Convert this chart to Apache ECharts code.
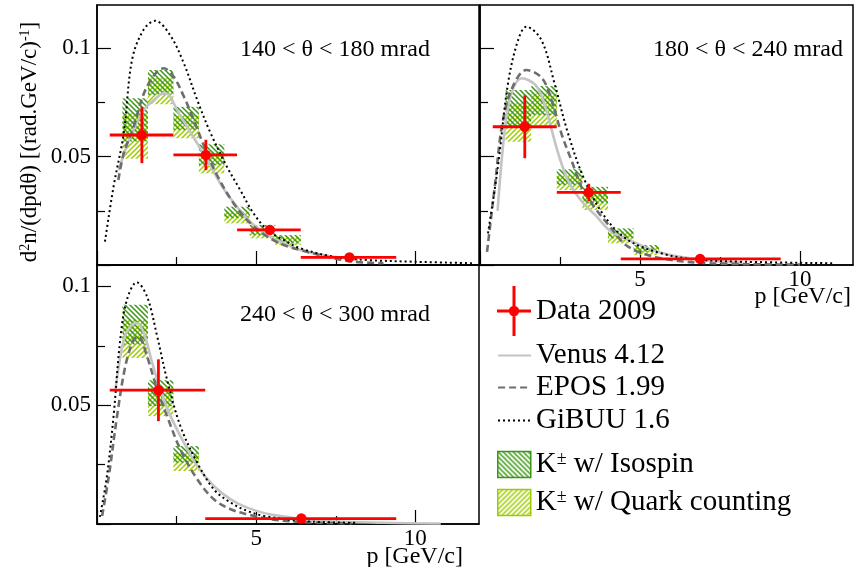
<!DOCTYPE html>
<html><head><meta charset="utf-8">
<script src="https://cdn.jsdelivr.net/npm/echarts@6/dist/echarts.min.js"></script>
<style>html,body{margin:0;padding:0;background:#fff}#c{width:856px;height:567px}</style>
</head><body><div id="c"></div>
<script>
const FONT = 'Liberation Serif';

// ---- axis ticks ----
const x_major = [0, 5, 10];
const x_minor = [2.5, 7.5];
const x_labels = [5, 10];
const y_major = [0, 0.05, 0.1];
const y_minor = [0.025, 0.075];
const y_labels = [0.05, 0.1];

// ---- panel 1 : 140 < theta < 180 mrad ----
const tl_data_p  = [1.41, 3.42, 5.43, 7.93];
const tl_data_y  = [0.060, 0.0508, 0.0162, 0.0035];
const tl_data_lo = [0.4, 2.4, 4.4, 6.4];
const tl_data_hi = [2.4, 4.4, 6.4, 9.4];
const tl_data_e  = [0.013, 0.007, 0.0008, 0.0005];
const tl_bin_lo = [0.8, 1.6, 2.4, 3.2, 4.0, 4.8, 5.6];
const tl_bin_hi = [1.6, 2.4, 3.2, 4.0, 4.8, 5.6, 6.4];
const tl_iso_lo = [0.057, 0.0785, 0.0623, 0.0461, 0.0216, 0.0138, 0.0100];
const tl_iso_hi = [0.077, 0.0900, 0.0730, 0.0557, 0.0269, 0.0185, 0.0138];
const tl_qc_lo  = [0.049, 0.0742, 0.0585, 0.0423, 0.0192, 0.0123, 0.0092];
const tl_qc_hi  = [0.070, 0.0862, 0.0692, 0.0523, 0.0246, 0.0169, 0.0130];
const tl_venus = [[0.68,0.0438],[1.05,0.0592],[1.47,0.0715],[1.78,0.0761],[2.1,0.0792],[2.26,0.0785],[2.52,0.0715],[2.83,0.0638],[3.15,0.0561],[3.46,0.0485],[3.78,0.0400],[4.08,0.0330],[4.5,0.0250],[4.92,0.0185],[5.35,0.0138],[5.87,0.0100],[6.39,0.0069],[6.92,0.0051],[7.44,0.0038],[8.2,0.0025]];
const tl_epos = [[0.67,0.0392],[0.84,0.0515],[1.15,0.0638],[1.57,0.0823],[2.1,0.0908],[2.41,0.0869],[2.73,0.0777],[3.04,0.0669],[3.36,0.0550],[3.77,0.0415],[4.29,0.0285],[4.82,0.0192],[5.35,0.0131],[5.87,0.0092],[6.39,0.0069],[7.44,0.0031],[8.07,0.0015],[9.0,0.0008]];
const tl_gibuu = [[0.25,0.0108],[0.52,0.0362],[0.84,0.0608],[1.1,0.0946],[1.46,0.1085],[1.83,0.1127],[2.3,0.1060],[2.73,0.0930],[3.15,0.0761],[3.57,0.0608],[4.08,0.0454],[4.5,0.0346],[4.92,0.0238],[5.35,0.0162],[5.87,0.0115],[6.39,0.0077],[7.44,0.0038],[8.5,0.0023],[9.96,0.0015],[11.85,0.0008]];

// ---- panel 2 : 180 < theta < 240 mrad ----
const tr_data_p  = [1.40, 3.40, 6.88];
const tr_data_y  = [0.0638, 0.0335, 0.0028];
const tr_data_lo = [0.4, 2.4, 4.4];
const tr_data_hi = [2.4, 4.4, 9.4];
const tr_data_e  = [0.0145, 0.004, 0.0005];
const tr_bin_lo = [0.8, 1.6, 2.4, 3.2, 4.0, 4.8];
const tr_bin_hi = [1.6, 2.4, 3.2, 4.0, 4.8, 5.6];
const tr_iso_lo = [0.0638, 0.0692, 0.0369, 0.0285, 0.0123, 0.0061];
const tr_iso_hi = [0.0808, 0.0826, 0.0442, 0.0361, 0.0169, 0.0092];
const tr_qc_lo  = [0.0569, 0.0646, 0.0346, 0.0254, 0.0100, 0.0046];
const tr_qc_hi  = [0.0746, 0.0792, 0.0415, 0.0338, 0.0154, 0.0082];
const tr_venus = [[0.55,0.0250],[0.79,0.0646],[1.0,0.0800],[1.31,0.0862],[1.73,0.0831],[1.99,0.0754],[2.2,0.0646],[2.46,0.0508],[2.77,0.0385],[3.19,0.0292],[3.6,0.0231],[4.1,0.0154],[4.9,0.0100],[5.52,0.0062],[6.25,0.0038],[7.2,0.0020],[8.2,0.0010]];
const tr_epos = [[0.22,0.0061],[0.48,0.0385],[0.69,0.0646],[1.0,0.0815],[1.45,0.0900],[1.94,0.0862],[2.25,0.0754],[2.56,0.0600],[2.875,0.0477],[3.19,0.0354],[3.6,0.0262],[4.02,0.0185],[4.63,0.0085],[5.67,0.0031],[7.23,0.0008],[10.0,0.0002]];
const tr_gibuu = [[0.25,0.0146],[0.56,0.0454],[0.875,0.0838],[1.19,0.1038],[1.45,0.1100],[1.92,0.1038],[2.33,0.0838],[2.75,0.0608],[3.27,0.0392],[3.9,0.0223],[4.63,0.0115],[5.67,0.0054],[6.7,0.0026],[8.27,0.0015],[11.1,0.0008]];

// ---- panel 3 : 240 < theta < 300 mrad ----
const bl_data_p  = [1.93, 6.42];
const bl_data_y  = [0.0563, 0.0023];
const bl_data_lo = [0.4, 3.4];
const bl_data_hi = [3.4, 9.4];
const bl_data_e  = [0.013, 0.0005];
const bl_bin_lo = [0.8, 1.6, 2.4];
const bl_bin_hi = [1.6, 2.4, 3.2];
const bl_iso_lo = [0.0755, 0.0496, 0.0258];
const bl_iso_hi = [0.0923, 0.0605, 0.0328];
const bl_qc_lo  = [0.0699, 0.0454, 0.0223];
const bl_qc_hi  = [0.0860, 0.0573, 0.0300];
const bl_venus = [[0.58,0.0566],[0.84,0.0776],[1.05,0.0832],[1.24,0.0846],[1.47,0.0804],[1.73,0.0680],[1.99,0.0566],[2.31,0.0454],[2.73,0.0342],[3.15,0.0244],[3.67,0.0160],[4.2,0.0104],[4.72,0.0069],[5.46,0.0040],[7.0,0.0015],[9.0,0.0005],[10.8,0.0002]];
const bl_epos = [[0.16,0.0034],[0.37,0.0200],[0.63,0.0454],[0.89,0.0664],[1.15,0.0776],[1.3,0.0790],[1.57,0.0706],[1.89,0.0566],[2.2,0.0454],[2.62,0.0314],[3.15,0.0188],[3.67,0.0104],[4.2,0.0062],[4.72,0.0041],[5.46,0.0020],[6.5,0.0008],[8.0,0.0003]];
const bl_gibuu = [[0.09,0.0030],[0.31,0.0200],[0.52,0.0454],[0.73,0.0776],[0.94,0.0944],[1.25,0.1017],[1.57,0.0958],[1.89,0.0790],[2.2,0.0608],[2.62,0.0412],[3.15,0.0258],[3.67,0.0146],[4.2,0.0090],[4.72,0.0055],[5.25,0.0034],[6.5,0.0012],[8.2,0.0005]];

// ---- labels ----
const panel_labels = ['140 < θ < 180 mrad', '180 < θ < 240 mrad', '240 < θ < 300 mrad'];
const N_DATA = 'Data 2009', N_VENUS = 'Venus 4.12', N_EPOS = 'EPOS 1.99', N_GIBUU = 'GiBUU 1.6';
const N_ISO = 'K± w/ Isospin', N_QC = 'K± w/ Quark counting';

// ---- hatch patterns ----
function hatch(color, back) {
  const s = 5, c = document.createElement('canvas');
  c.width = s; c.height = s;
  const g = c.getContext('2d');
  g.strokeStyle = color; g.lineWidth = 1.5;
  g.beginPath();
  if (back) {
    g.moveTo(0, 0); g.lineTo(s, s);
    g.moveTo(-1, s - 1); g.lineTo(1, s + 1);
    g.moveTo(s - 1, -1); g.lineTo(s + 1, 1);
  } else {
    g.moveTo(0, s); g.lineTo(s, 0);
    g.moveTo(-1, 1); g.lineTo(1, -1);
    g.moveTo(s - 1, s + 1); g.lineTo(s + 1, s - 1);
  }
  g.stroke();
  return c;
}
const ISO_C = '#3a9614', QC_C = '#9ccc00';
const isoPat = { image: hatch(ISO_C, true), repeat: 'repeat' };
const qcPat = { image: hatch(QC_C, false), repeat: 'repeat' };

const chart = echarts.init(document.getElementById('c'), null, { renderer: 'canvas' });

const tickLS = { color: '#000', width: 1.2 };
function xMain(gi, max, lab) {
  return { type: 'value', gridIndex: gi, min: 0, max: max, interval: 5, position: 'bottom',
    axisLine: { show: true, onZero: false, lineStyle: { color: '#000', width: 1.5 } },
    axisTick: { show: true, inside: true, length: 14, customValues: x_major, lineStyle: tickLS },
    axisLabel: { show: lab, customValues: x_labels, margin: 3, color: '#000', fontFamily: FONT, fontSize: 23 },
    splitLine: { show: false } };
}
function xMinor(gi, max) {
  return { type: 'value', gridIndex: gi, min: 0, max: max, position: 'bottom',
    axisLine: { show: false, onZero: false },
    axisTick: { show: true, inside: true, length: 8, customValues: x_minor, lineStyle: tickLS },
    axisLabel: { show: false }, splitLine: { show: false } };
}
function yMain(gi, max, lab) {
  return { type: 'value', gridIndex: gi, min: 0, max: max, interval: 0.05, position: 'left',
    axisLine: { show: true, onZero: false, lineStyle: { color: '#000', width: 1.5 } },
    axisTick: { show: true, inside: true, length: 14, customValues: y_major, lineStyle: tickLS },
    axisLabel: { show: lab, customValues: y_labels, margin: 6, color: '#000', fontFamily: FONT, fontSize: 23 },
    splitLine: { show: false } };
}
function yMinor(gi, max) {
  return { type: 'value', gridIndex: gi, min: 0, max: max, position: 'left',
    axisLine: { show: false, onZero: false },
    axisTick: { show: true, inside: true, length: 8, customValues: y_minor, lineStyle: tickLS },
    axisLabel: { show: false }, splitLine: { show: false } };
}

function boxSeries(name, gi, blo, bhi, lo, hi, pat) {
  return { type: 'custom', name: name, xAxisIndex: gi, yAxisIndex: gi, z: 1, silent: true,
    itemStyle: { color: pat },
    data: blo.map((b, i) => [b, bhi[i], lo[i], hi[i]]),
    encode: { x: [0, 1], y: [2, 3] },
    renderItem: function (params, api) {
      const a = api.coord([api.value(0), api.value(3)]);
      const b = api.coord([api.value(1), api.value(2)]);
      return { type: 'rect', shape: { x: a[0], y: a[1], width: b[0] - a[0], height: b[1] - a[1] },
        style: { fill: pat } };
    } };
}
function dataSeries(gi, p, y, lo, hi, e) {
  return { type: 'custom', name: N_DATA, xAxisIndex: gi, yAxisIndex: gi, z: 5, silent: true,
    itemStyle: { color: '#ff0000' },
    data: p.map((v, i) => [v, y[i], lo[i], hi[i], e[i]]),
    encode: { x: [0, 2, 3], y: 1 },
    renderItem: function (params, api) {
      const x = api.value(0), yy = api.value(1), er = api.value(4);
      const c = api.coord([x, yy]);
      const l = api.coord([api.value(2), yy]), r = api.coord([api.value(3), yy]);
      const t = api.coord([x, yy + er]), b = api.coord([x, yy - er]);
      const ls = { stroke: '#ff0000', lineWidth: 2.8 };
      return { type: 'group', children: [
        { type: 'line', shape: { x1: l[0], y1: l[1], x2: r[0], y2: r[1] }, style: ls },
        { type: 'line', shape: { x1: t[0], y1: t[1], x2: b[0], y2: b[1] }, style: ls },
        { type: 'circle', shape: { cx: c[0], cy: c[1], r: 5.2 }, style: { fill: '#ff0000' } }
      ] };
    } };
}
function curve(name, gi, pts, color, width, type) {
  return { type: 'line', name: name, xAxisIndex: gi, yAxisIndex: gi, z: 3, silent: true,
    data: pts, symbol: 'none', smooth: 0.35, clip: true,
    lineStyle: { color: color, width: width, type: type }, itemStyle: { color: color } };
}
const VEN_C = '#c4c4c4', EPOS_C = '#6e6e6e', GIB_C = '#000000';
function panel(gi, d, bins, boxes, curves) {
  return [
    boxSeries(N_QC, gi, bins[0], bins[1], boxes[2], boxes[3], qcPat),
    boxSeries(N_ISO, gi, bins[0], bins[1], boxes[0], boxes[1], isoPat),
    curve(N_VENUS, gi, curves[0], VEN_C, 2.6, 'solid'),
    curve(N_EPOS, gi, curves[1], EPOS_C, 2.6, [7, 4]),
    curve(N_GIBUU, gi, curves[2], GIB_C, 2, [2, 3]),
    dataSeries(gi, d[0], d[1], d[2], d[3], d[4])
  ];
}

const series = [].concat(
  panel(0, [tl_data_p, tl_data_y, tl_data_lo, tl_data_hi, tl_data_e], [tl_bin_lo, tl_bin_hi],
        [tl_iso_lo, tl_iso_hi, tl_qc_lo, tl_qc_hi], [tl_venus, tl_epos, tl_gibuu]),
  panel(1, [tr_data_p, tr_data_y, tr_data_lo, tr_data_hi, tr_data_e], [tr_bin_lo, tr_bin_hi],
        [tr_iso_lo, tr_iso_hi, tr_qc_lo, tr_qc_hi], [tr_venus, tr_epos, tr_gibuu]),
  panel(2, [bl_data_p, bl_data_y, bl_data_lo, bl_data_hi, bl_data_e], [bl_bin_lo, bl_bin_hi],
        [bl_iso_lo, bl_iso_hi, bl_qc_lo, bl_qc_hi], [bl_venus, bl_epos, bl_gibuu])
);

const legText = { fontFamily: FONT, fontSize: 29, color: '#000',
  rich: { n: { fontFamily: FONT, fontSize: 29, color: '#000' },
          s: { fontFamily: FONT, fontSize: 18, color: '#000', verticalAlign: 'top' } } };
function leg(top, item, w, h, fmt) {
  const o = { left: 497, top: top, orient: 'vertical', padding: 0, itemGap: 0, selectedMode: false,
    itemWidth: w, itemHeight: h, textStyle: legText, data: [item] };
  if (fmt) o.formatter = fmt;
  return o;
}
const hideSym = { color: 'rgba(0,0,0,0)', borderColor: 'rgba(0,0,0,0)', borderWidth: 0, opacity: 0 };
const crossIcon = 'path://M0,23.5H34V26.5H0Z M15.5,0H18.5V50H15.5Z M22.2,25A5.2,5.2 0 1 1 11.8,25A5.2,5.2 0 1 1 22.2,25Z';

const option = {
  backgroundColor: '#fff',
  animation: false,
  grid: [
    { left: 97, top: 5, width: 382, height: 260 },
    { left: 480, top: 5, width: 373, height: 260 },
    { left: 97, top: 265, width: 382, height: 259 }
  ].map(g => Object.assign({ show: true, borderColor: '#000', borderWidth: 1.5 }, g)),
  xAxis: [xMain(0, 12, false), xMain(1, 11.66, true), xMain(2, 12, true),
          xMinor(0, 12), xMinor(1, 11.66), xMinor(2, 12)],
  yAxis: [yMain(0, 0.12, true), yMain(1, 0.12, false), yMain(2, 0.109, true),
          yMinor(0, 0.12), yMinor(1, 0.12), yMinor(2, 0.109)],
  legend: [
    leg(286, { name: N_DATA, icon: crossIcon, itemStyle: { color: '#ff0000' } }, 34, 50),
    leg(341, { name: N_VENUS, itemStyle: hideSym, lineStyle: { width: 2.2 } }, 33, 14),
    leg(373, { name: N_EPOS, itemStyle: hideSym, lineStyle: { width: 2.2 } }, 33, 14),
    leg(406, { name: N_GIBUU, itemStyle: hideSym, lineStyle: { width: 2 } }, 33, 14),
    leg(450, { name: N_ISO, icon: 'rect', itemStyle: { color: isoPat, borderColor: ISO_C, borderWidth: 1.5 } }, 33, 26,
        '{n|K}{s|±}{n| w/ Isospin}'),
    leg(488, { name: N_QC, icon: 'rect', itemStyle: { color: qcPat, borderColor: QC_C, borderWidth: 1.5 } }, 33, 26,
        '{n|K}{s|±}{n| w/ Quark counting}')
  ],
  graphic: [
    { type: 'text', x: 30, y: 142, rotation: Math.PI / 2, silent: true,
      style: { text: '{a|d}{s|2}{a|n/(dpdθ) [(rad.GeV/c)}{s|-1}{a|]}', align: 'center', verticalAlign: 'middle',
        rich: { a: { fontFamily: FONT, fontSize: 23, fill: '#000' },
                s: { fontFamily: FONT, fontSize: 14, fill: '#000', verticalAlign: 'top' } } } },
    { type: 'text', x: 240, y: 50, silent: true,
      style: { text: panel_labels[0], fontFamily: FONT, fontSize: 24, fill: '#000', verticalAlign: 'middle' } },
    { type: 'text', x: 653, y: 50, silent: true,
      style: { text: panel_labels[1], fontFamily: FONT, fontSize: 24, fill: '#000', verticalAlign: 'middle' } },
    { type: 'text', x: 240, y: 315, silent: true,
      style: { text: panel_labels[2], fontFamily: FONT, fontSize: 24, fill: '#000', verticalAlign: 'middle' } },
    { type: 'text', x: 463, y: 557, silent: true,
      style: { text: 'p [GeV/c]', fontFamily: FONT, fontSize: 24, fill: '#000', align: 'right', verticalAlign: 'middle' } },
    { type: 'text', x: 851, y: 297, silent: true,
      style: { text: 'p [GeV/c]', fontFamily: FONT, fontSize: 24, fill: '#000', align: 'right', verticalAlign: 'middle' } }
  ],
  series: series
};
chart.setOption(option);
</script></body></html>
